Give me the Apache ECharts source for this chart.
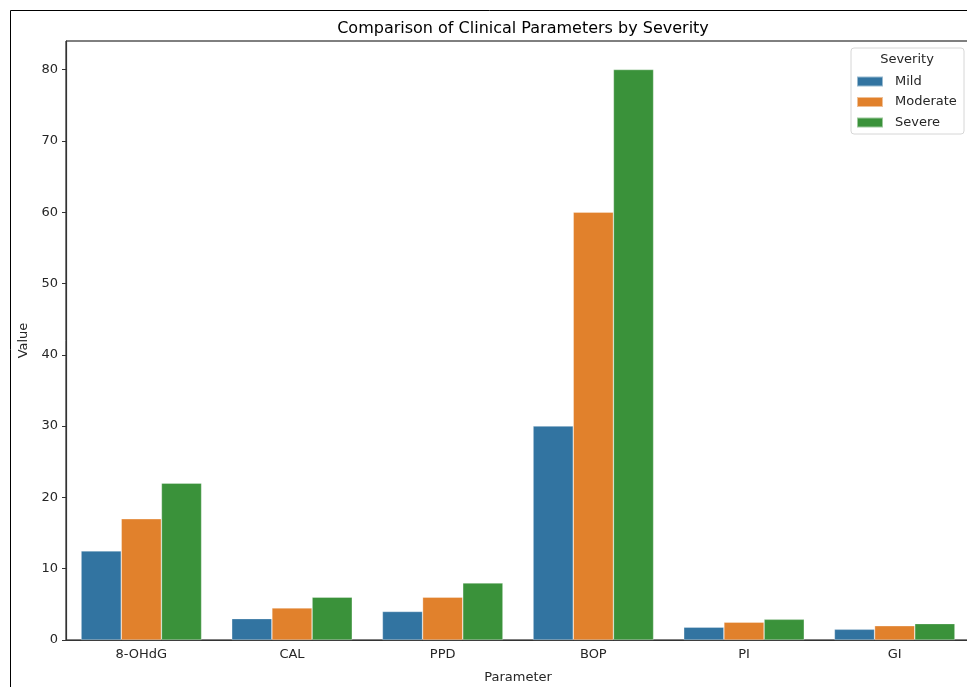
<!DOCTYPE html>
<html>
<head>
<meta charset="utf-8">
<script src="https://cdn.jsdelivr.net/npm/echarts@6/dist/echarts.min.js"></script>
<style>html,body{margin:0;padding:0;background:#fff;}#c{width:967px;height:687px;}</style>
</head>
<body>
<div id="c"></div>
<script>
const categories = ['8-OHdG', 'CAL', 'PPD', 'BOP', 'PI', 'GI'];
const seriesNames = ['Mild', 'Moderate', 'Severe'];
const mild = [12.5, 3, 4, 30, 1.8, 1.5];
const moderate = [17, 4.5, 6, 60, 2.5, 2.0];
const severe = [22, 6, 8, 80, 2.9, 2.3];
const yTicks = [0, 10, 20, 30, 40, 50, 60, 70, 80];
const colors = ['#3274a1', '#e1812c', '#3a923a'];

const chart = echarts.init(document.getElementById('c'));
const font = 'DejaVu Sans';
const values = [mild, moderate, severe];
chart.setOption({
  animation: false,
  textStyle: { fontFamily: font },
  title: {
    text: 'Comparison of Clinical Parameters by Severity',
    left: 518, top: 16, textAlign: 'center',
    textStyle: { fontFamily: font, fontSize: 16, fontWeight: 'normal', color: '#000' }
  },
  grid: { left: 66, top: 41, right: -3, bottom: 47, outerBoundsMode: 'none', containLabel: false,
    show: true, borderColor: '#000', borderWidth: 1, backgroundColor: 'transparent' },
  legend: {
    data: seriesNames, orient: 'vertical', left: 851, top: 70,
    itemWidth: 26, itemHeight: 10, itemGap: 7.5,
    textStyle: { fontFamily: font, fontSize: 13, color: '#262626', padding: [0, 0, 0, 7] },
    icon: 'rect'
  },
  xAxis: {
    type: 'category', data: categories,
    name: 'Parameter', nameLocation: 'middle', nameGap: 31,
    nameTextStyle: { fontFamily: font, fontSize: 13, color: '#262626' },
    axisLine: { lineStyle: { color: '#333', width: 1.2 } },
    axisTick: { alignWithLabel: true, length: 4, lineStyle: { color: '#333' } },
    axisLabel: { fontFamily: font, fontSize: 13, color: '#262626', margin: 8 }
  },
  yAxis: {
    type: 'value', min: 0, max: 84, interval: 10,
    name: 'Value', nameLocation: 'middle', nameGap: 34,
    nameTextStyle: { fontFamily: font, fontSize: 13, color: '#262626' },
    splitLine: { show: false },
    axisLine: { show: true, lineStyle: { color: '#333', width: 1.2 } },
    axisTick: { show: true, length: 4, lineStyle: { color: '#333' } },
    axisLabel: { fontFamily: font, fontSize: 13, color: '#262626', margin: 8, showMaxLabel: false,
      formatter: v => yTicks.includes(v) ? String(v) : '' }
  },
  series: seriesNames.map((n, i) => ({
    name: n, type: 'bar', data: values[i],
    barGap: '0%', barCategoryGap: '20%',
    itemStyle: { color: colors[i], borderColor: 'rgba(255,255,255,0.5)', borderWidth: 0.6 }
  })),
  graphic: [
    { type: 'rect', shape: { x: 10.5, y: 10.5, width: 1000, height: 1000 }, style: { fill: 'none', stroke: '#000', lineWidth: 1 }, z: -10 },
    { type: 'rect', shape: { x: 851, y: 48, width: 113, height: 86, r: 3 }, style: { fill: 'rgba(255,255,255,0.8)', stroke: '#d6d6d6', lineWidth: 1 }, z: 0 },
    { type: 'text', style: { text: 'Severity', x: 907, y: 60, textAlign: 'center', textVerticalAlign: 'middle', font: '13px "DejaVu Sans"', fill: '#262626' }, z: 1 }
  ]
});
</script>
</body>
</html>
